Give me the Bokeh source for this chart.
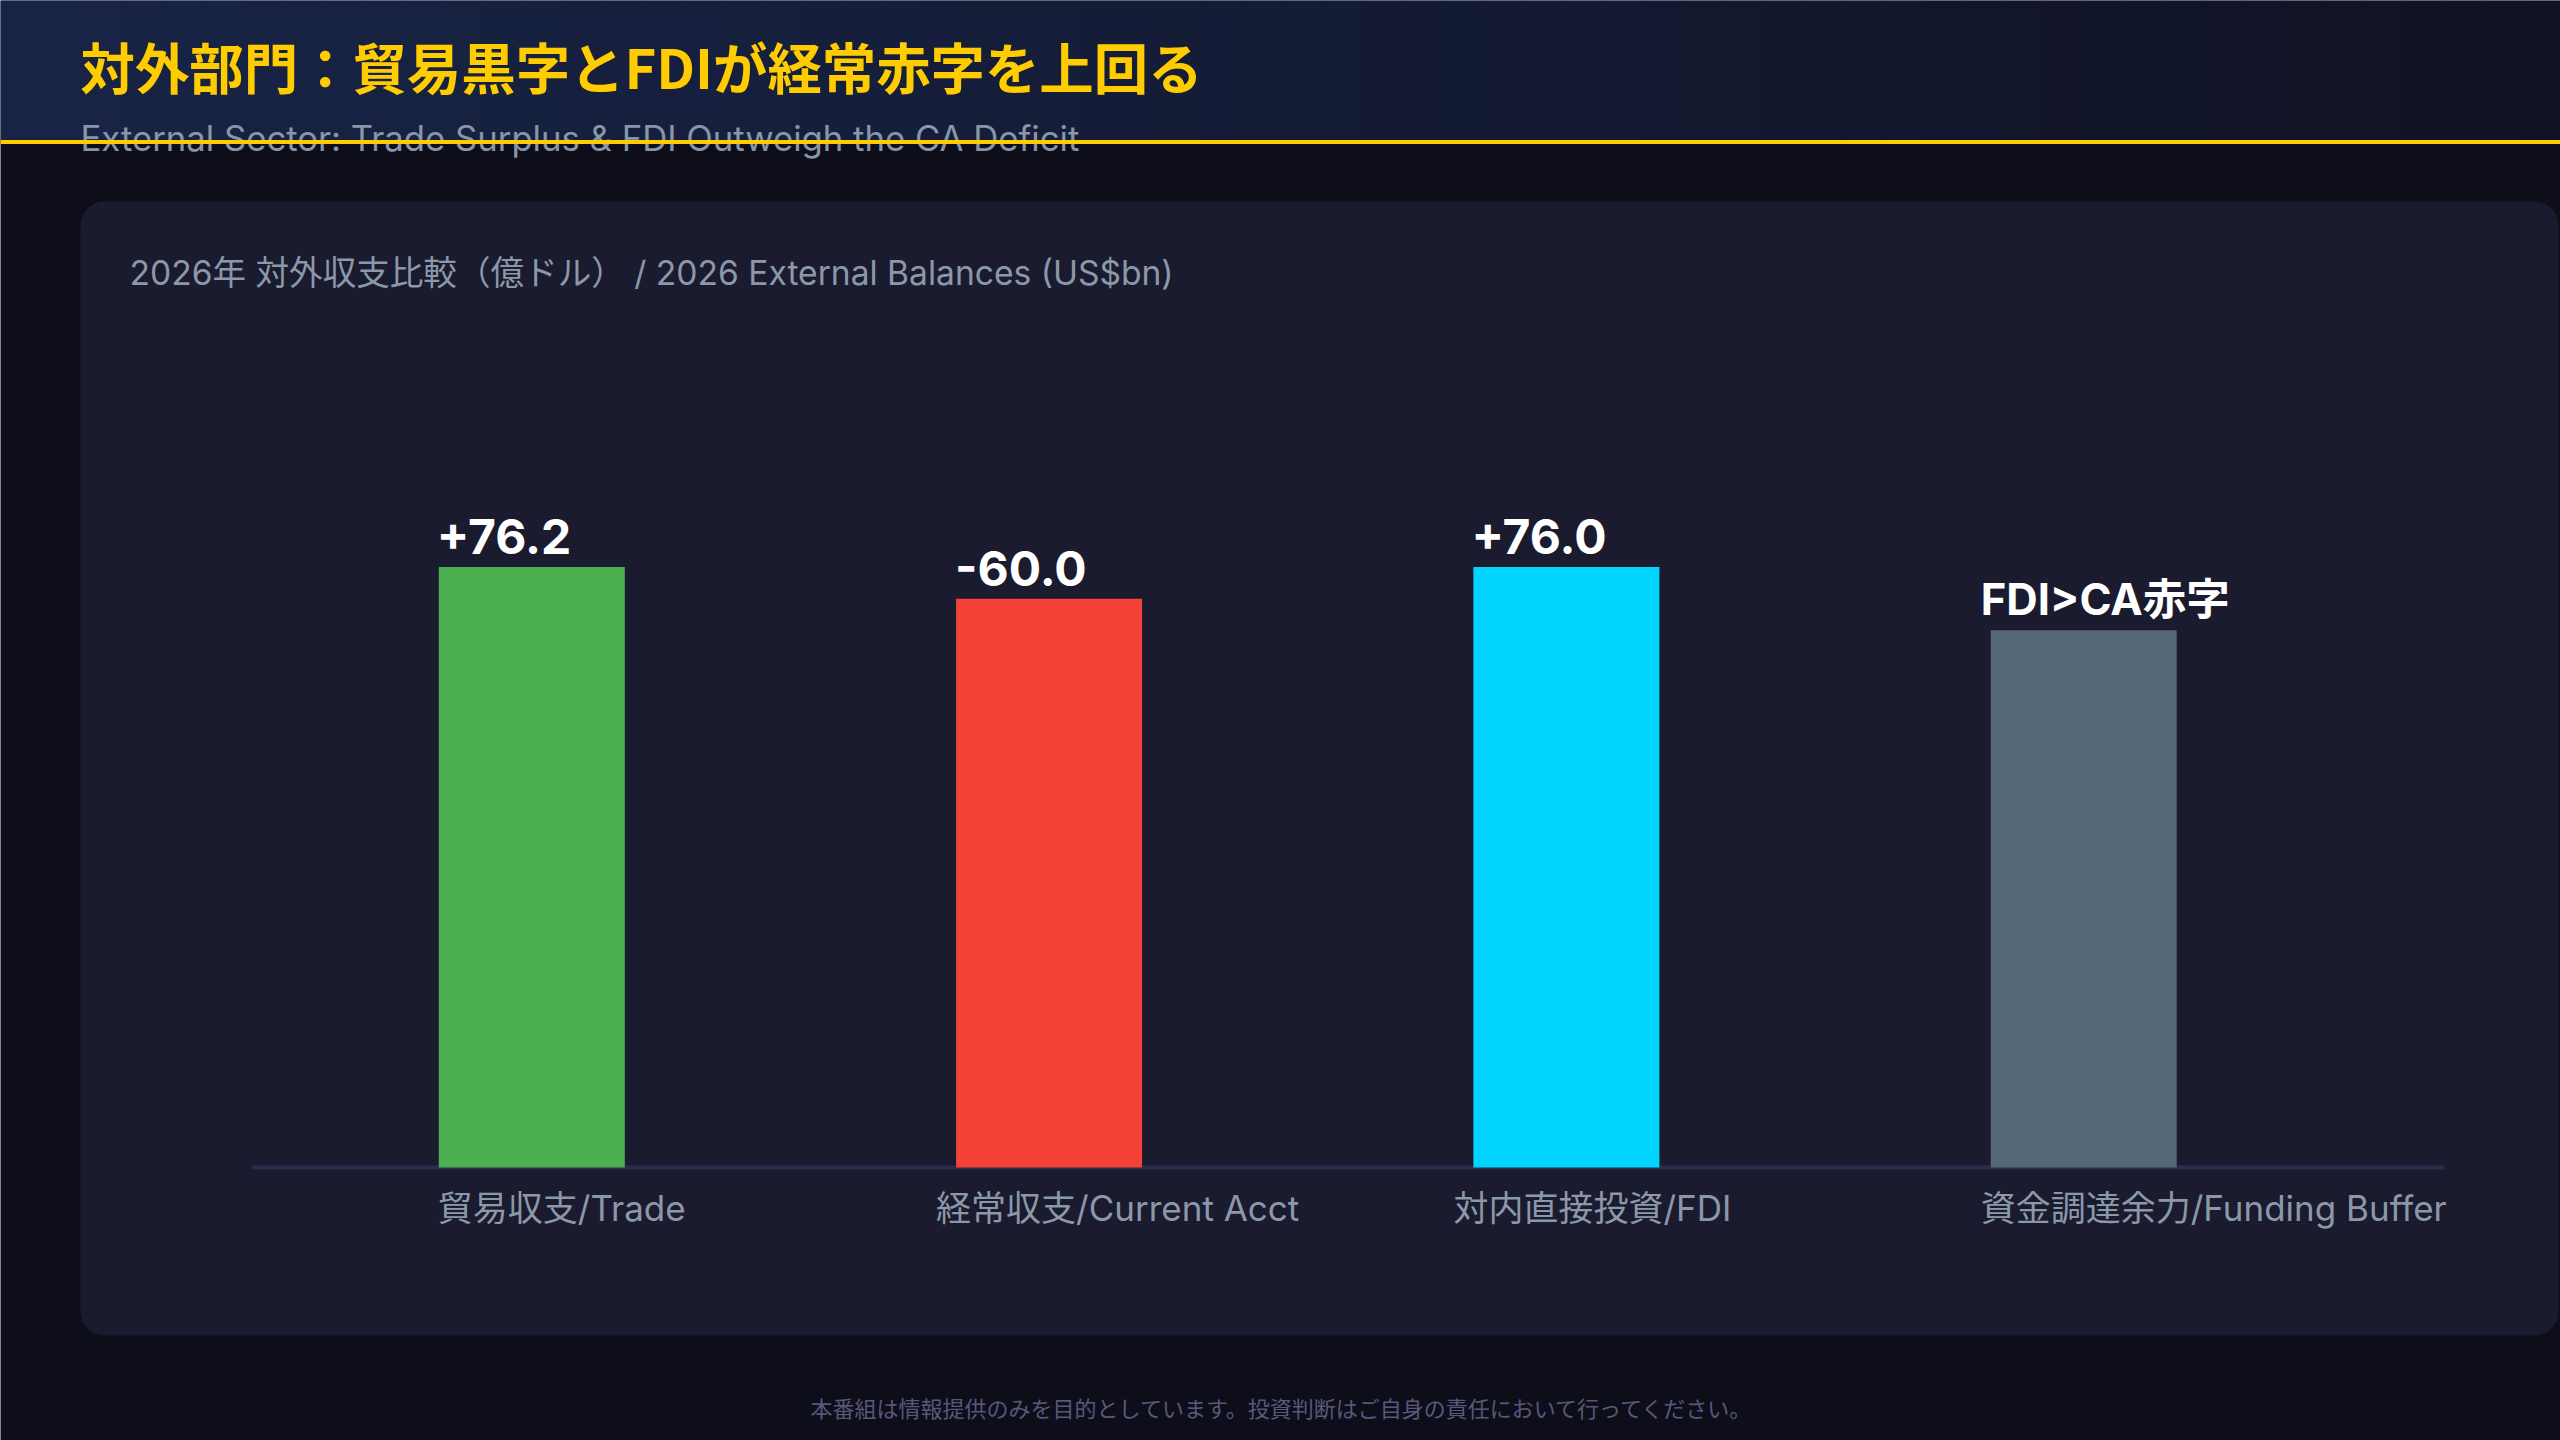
from bokeh.plotting import figure
from bokeh.models import Range1d, ColumnDataSource
from bokeh.core.properties import value
from bokeh.embed import file_html
from bokeh.resources import INLINE

# ---------------- data ----------------
categories = ["貿易収支/Trade", "経常収支/Current Acct", "対内直接投資/FDI", "資金調達余力/Funding Buffer"]
balances_usd_bn = [76.2, -60.0, 76.0, None]          # labelled values (US$bn)
bar_height_pct = [95, 90, 95, 85]                   # drawn bar heights (% of chart height)
buffer_note = "FDI>CA赤字"
bar_colors = ["#4CAF50", "#F44336", "#00D4FF", "#546878"]

title = "対外部門：貿易黒字とFDIが経常赤字を上回る"
subtitle = "External Sector: Trade Surplus & FDI Outweigh the CA Deficit"
chart_caption = "2026年 対外収支比較（億ドル） / 2026 External Balances (US$bn)"
footer = "本番組は情報提供のみを目的としています。投資判断はご自身の責任において行ってください。"

# ---------------- layout / style ----------------
W, H = 2560, 1440
BAR_UNIT_PX = 517.3      # px between bar centres
BAR0_PX = 531.3          # px of first bar centre
BAR_W = 186 / BAR_UNIT_PX
BASE_PX = 1167           # baseline px from top
PCT_PX = 6.32            # px per percent
CJK = "Noto Sans CJK JP"
LAT = "Inter, Noto Sans CJK JP"

p = figure(width=W, height=H, x_range=Range1d(0, W), y_range=Range1d(H, 0),
           min_border=0, toolbar_location=None, output_backend="svg")
p.axis.visible = False
p.grid.visible = False
p.outline_line_color = None
p.background_fill_color = "#0e0e1a"
p.border_fill_color = "#0e0e1a"

p.extra_x_ranges = {"bx": Range1d(-BAR0_PX / BAR_UNIT_PX, (W - BAR0_PX) / BAR_UNIT_PX)}
p.extra_y_ranges = {"by": Range1d(-(H - BASE_PX) / PCT_PX, BASE_PX / PCT_PX)}

# header gradient
n = 64
c0 = (0x18, 0x24, 0x46)
c1 = (0x10, 0x12, 0x24)
lefts, rights, cols = [], [], []
for i in range(n):
    t = i / (n - 1)
    c = tuple(int(round(a + (b - a) * t)) for a, b in zip(c0, c1))
    lefts.append(W * i / n)
    rights.append(W * (i + 1) / n + 1)
    cols.append("#%02x%02x%02x" % c)
p.quad(left=lefts, right=rights, top=[0] * n, bottom=[142] * n, color=cols, line_color=None)

# title & subtitle
p.text(x=[80], y=[65], text=[title], text_font=value(CJK), text_font_style="bold",
       text_font_size="54.4px", text_color="#FFCC00", text_baseline="middle")
p.text(x=[80], y=[137], text=[subtitle], text_font=value(LAT),
       text_font_size="34.7px", text_color="#8896a8", text_baseline="middle")
p.quad(left=[0], right=[W], top=[139.5], bottom=[143.5], color="#FFCC00", line_color=None)

# panel
p.quad(left=[80], right=[2558], top=[201], bottom=[1335], color="#1a1b2e",
       line_color=None, border_radius=24)

p.text(x=[129], y=[272], text=[chart_caption], text_font=value(LAT),
       text_font_size="33.6px", text_color="#8b98a9", text_baseline="middle")

# baseline
p.segment(x0=[252], x1=[2444], y0=[BASE_PX], y1=[BASE_PX], line_color="#2e2c4e", line_width=4)

idx = list(range(len(categories)))
src = ColumnDataSource(dict(
    x=idx,
    left=[i - BAR_W / 2 for i in idx],
    top=bar_height_pct,
    color=bar_colors,
    cat=categories,
    lab=[(f"{v:+.1f}" if v is not None else buffer_note) for v in balances_usd_bn],
    lab_size=["48px" if v is not None else "43.5px" for v in balances_usd_bn],
    lab_dx=[-2, -1, -2, -10],
    lab_dy=[-31, -30, -31, -31],
    cat_dx=[-1, -20, -20, -10],
))

p.vbar(x="x", top="top", bottom=0, width=BAR_W, color="color", line_color=None,
       source=src, x_range_name="bx", y_range_name="by")

p.text(x="left", y="top", text="lab", x_offset="lab_dx", y_offset="lab_dy",
       text_font=value(LAT), text_font_style="bold", text_font_size="lab_size",
       text_color="white", text_align="left", text_baseline="middle",
       source=src, x_range_name="bx", y_range_name="by")

p.text(x="left", y=0, text="cat", x_offset="cat_dx", y_offset=40,
       text_font=value(LAT), text_font_size="35px", text_color="#8b98a9",
       text_align="left", text_baseline="middle",
       source=src, x_range_name="bx", y_range_name="by")

# footer
p.text(x=[1282], y=[1406], text=[footer], text_font=value(CJK), text_font_size="22px",
       text_color="#58587a", text_align="center", text_baseline="middle")

open("out.html", "w").write(file_html(p, INLINE))
